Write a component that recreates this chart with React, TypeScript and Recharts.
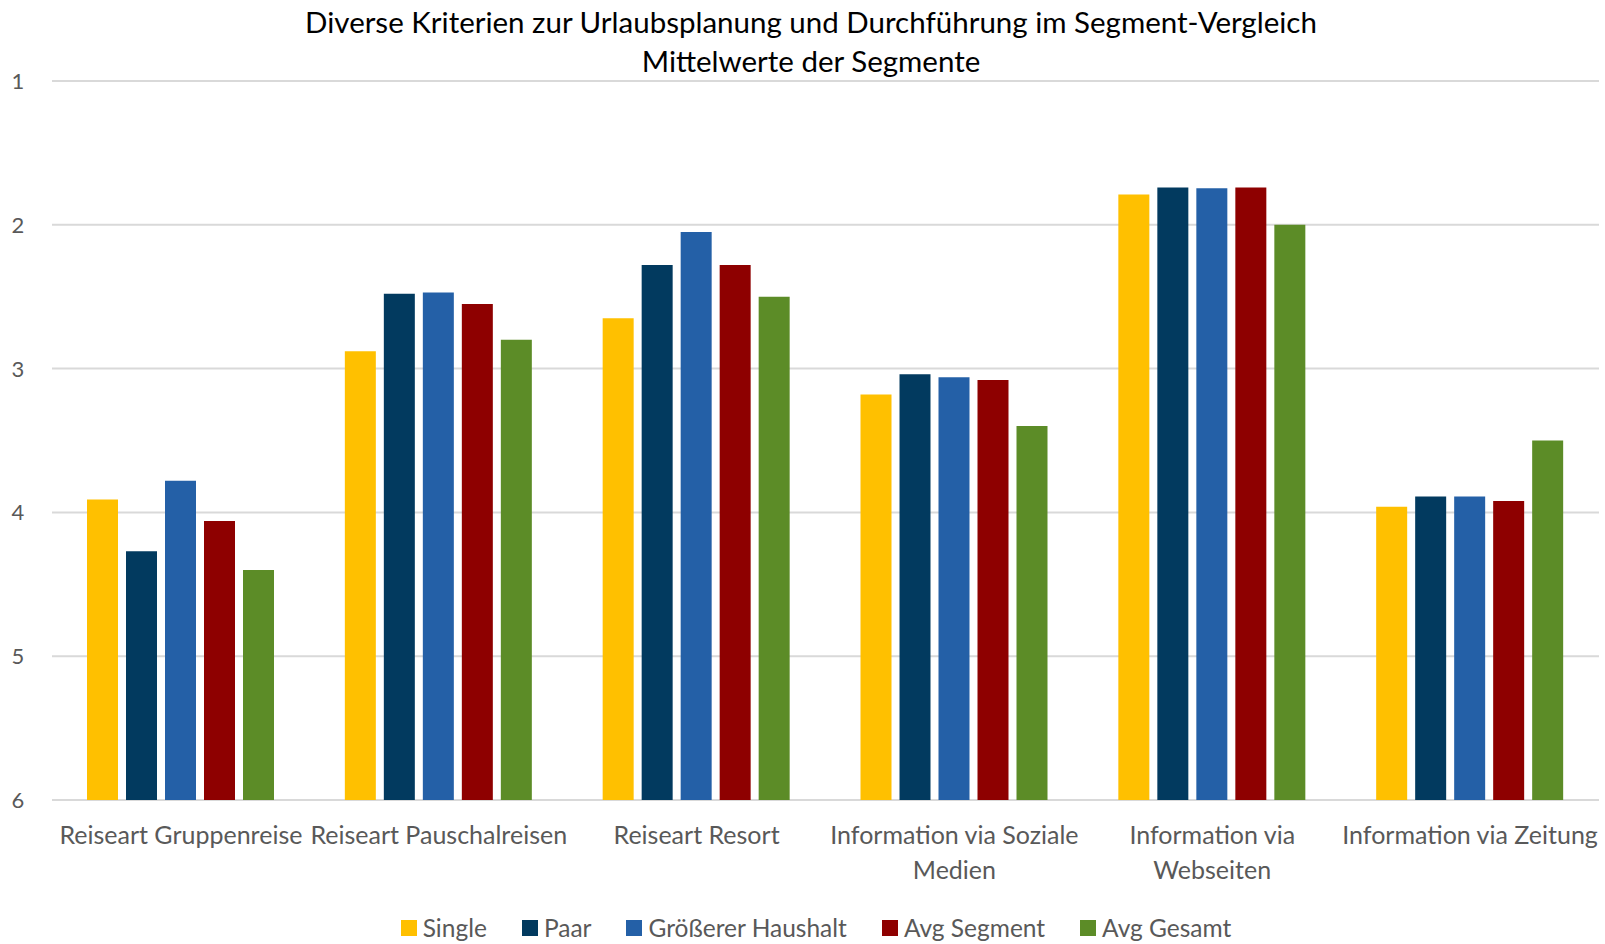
import React from "react";
import { BarChart, Bar, XAxis, YAxis, CartesianGrid } from "recharts";

// ─── Data ─────────────────────────────────────────────────────────────────────
const categories = [
  "Reiseart Gruppenreise",
  "Reiseart Pauschalreisen",
  "Reiseart Resort",
  "Information via Soziale\nMedien",
  "Information via\nWebseiten",
  "Information via Zeitung",
];

const single        = [3.91, 2.88, 2.65, 3.18, 1.79, 3.96];
const paar          = [4.27, 2.48, 2.28, 3.04, 1.74, 3.89];
const haushalt      = [3.78, 2.47, 2.05, 3.06, 1.745, 3.89];
const avgSegment    = [4.06, 2.55, 2.28, 3.08, 1.74, 3.92];
const avgGesamt     = [4.40, 2.80, 2.50, 3.40, 2.0, 3.50];

const yTicks = [1, 2, 3, 4, 5, 6];

const series = [
  { key: "single",     name: "Single",             color: "#FFC000", values: single },
  { key: "paar",       name: "Paar",               color: "#023A5F", values: paar },
  { key: "haushalt",   name: "Größerer Haushalt",  color: "#2460A7", values: haushalt },
  { key: "avgSegment", name: "Avg Segment",        color: "#8E0000", values: avgSegment },
  { key: "avgGesamt",  name: "Avg Gesamt",         color: "#5C8C27", values: avgGesamt },
];

const rows = categories.map((c, i) => {
  const r: Record<string, any> = { category: c };
  series.forEach(s => { r[s.key] = s.values[i]; });
  return r;
});

const FONT = "Lato, 'Open Sans', sans-serif";
const GRAY = "#595959";

// ─── Ticks ────────────────────────────────────────────────────────────────────
const XTick = ({ x, y, payload }: any) => {
  const lines = String(payload.value).split("\n");
  return (
    <g>
      {lines.map((ln, i) => (
        <text key={i} x={x} y={y + 36 + i * 35} textAnchor="middle"
          fill={GRAY} fontSize={25} fontFamily={FONT}>{ln}</text>
      ))}
    </g>
  );
};

const YTick = ({ y, payload }: any) => (
  <text x={18} y={y + 8} textAnchor="middle" fill={GRAY} fontSize={22} fontFamily={FONT}>
    {payload.value}
  </text>
);

// ─── Component ────────────────────────────────────────────────────────────────
export default function App() {
  return (
    <div style={{ position: "absolute", left: 0, top: 0, width: 1605, height: 944, background: "#fff", fontFamily: FONT }}>
      <div style={{ position: "absolute", left: 0, width: 1622, top: 2, textAlign: "center", fontSize: 29.5, lineHeight: "39px", color: "#000" }}>
        <div>Diverse Kriterien zur Urlaubsplanung und Durchführung im Segment-Vergleich</div>
        <div>Mittelwerte der Segmente</div>
      </div>

      <BarChart width={1605} height={944} data={rows}
        margin={{ top: 81, right: 6, left: 0, bottom: 84 }}
        barGap={8} barSize={31}>
        <CartesianGrid vertical={false} stroke="#D9D9D9" strokeWidth={2} />
        <XAxis dataKey="category" axisLine={false} tickLine={false} height={60}
          tick={<XTick />} interval={0} />
        <YAxis type="number" domain={[1, 6]} reversed ticks={yTicks} width={52}
          axisLine={false} tickLine={false} tick={<YTick />} />
        {series.map(s => (
          <Bar key={s.key} name={s.name} dataKey={(d: any) => [6, d[s.key]]}
            fill={s.color} isAnimationActive={false} />
        ))}
      </BarChart>

      {/* ── Legend ─────────────────────────────────────────────────────────── */}
      <div style={{ position: "absolute", left: 0, width: 1632, top: 912, display: "flex", justifyContent: "center", gap: 35 }}>
        {series.map(s => (
          <div key={s.key} style={{ display: "flex", alignItems: "center", gap: 6 }}>
            <span style={{ width: 16, height: 16, background: s.color, display: "inline-block" }} />
            <span style={{ fontSize: 24.5, color: GRAY, lineHeight: "32px" }}>{s.name}</span>
          </div>
        ))}
      </div>
    </div>
  );
}
